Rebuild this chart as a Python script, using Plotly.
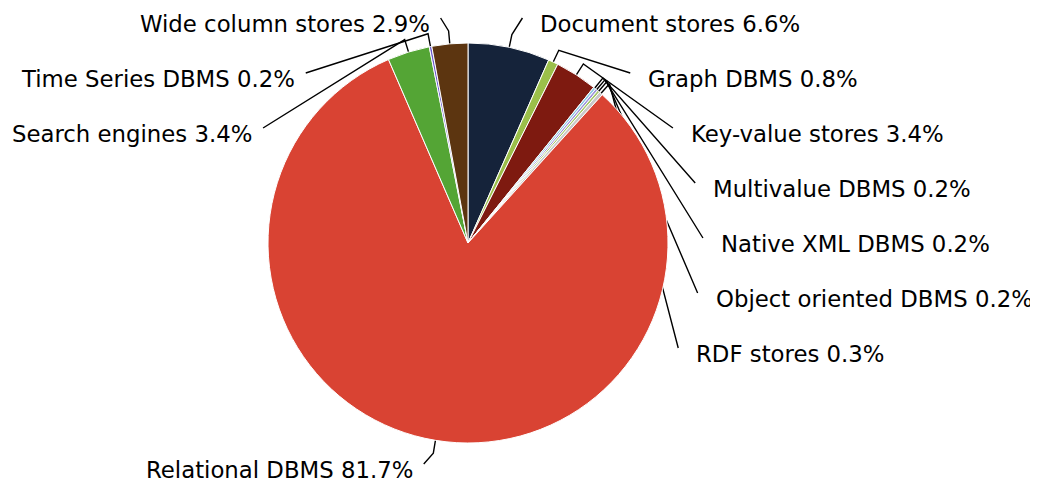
import math
import plotly.graph_objects as go

categories = ["Document stores", "Graph DBMS", "Key-value stores", "Multivalue DBMS",
              "Native XML DBMS", "Object oriented DBMS", "RDF stores", "Relational DBMS",
              "Search engines", "Time Series DBMS", "Wide column stores"]
shares = [6.6, 0.8, 3.4, 0.2, 0.2, 0.2, 0.3, 81.7, 3.4, 0.2, 2.9]
colors = ["#15233a", "#9bbf4a", "#7e1a10", "#8ec9e2", "#9d93dd", "#a6c86c", "#c9c9c9",
          "#d94333", "#54a535", "#6a5acd", "#5c3510"]

# page body has an 8px margin, so the figure is drawn 8px smaller and shifted
OFF = 8
W, H = 1038 - OFF, 484 - OFF
CX, CY, R = 468 - OFF, 243 - OFF, 200
BREAK_R = 213
LABEL_R = 235
NAT_SHIFT = 6
SLOT = 55
TOP_Y = 24 - OFF
BOTTOM_Y = 470 - OFF
ANCHOR_DY = 6
GAP_RIGHT = 16
GAP_LEFT = 9
FONT = dict(family="DejaVu Sans", size=22.8, color="#000000")

total = sum(shares)
mids = []
acc = 0.0
for v in shares:
    mids.append(2 * math.pi * (acc + v / 2) / total)
    acc += v

fig = go.Figure()
fig.add_trace(go.Pie(
    labels=categories, values=shares, sort=False, direction="clockwise", rotation=0,
    marker=dict(colors=colors, line=dict(color="white", width=1)),
    textinfo="none", hoverinfo="label+percent", showlegend=False,
    domain=dict(x=[(CX - R) / W, (CX + R) / W], y=[1 - (CY + R) / H, 1 - (CY - R) / H]),
))

annotations = []
for side in (1, -1):
    idx = [i for i in range(len(shares)) if (math.sin(mids[i]) > 0) == (side == 1)]
    nat = {i: CY - LABEL_R * math.cos(mids[i]) + ANCHOR_DY for i in idx}
    idx.sort(key=lambda i: nat[i])
    ys = []
    prev = None
    for i in idx:
        y = max(nat[i], TOP_Y if prev is None else prev + SLOT)
        ys.append(y)
        prev = y
    nxt = None
    for k in range(len(idx) - 1, -1, -1):
        lim = BOTTOM_Y if nxt is None else nxt - SLOT
        ys[k] = min(ys[k], lim)
        nxt = ys[k]
    for i, yt in zip(idx, ys):
        th = mids[i]
        ay = yt - ANCHOR_DY
        if abs(yt - nat[i]) > 15:
            dx = math.sqrt(max(LABEL_R ** 2 - (ay - CY) ** 2, 0))
        else:
            dx = LABEL_R * abs(math.sin(th)) + NAT_SHIFT
        xe = CX + side * dx
        bx, by = CX + BREAK_R * math.sin(th), CY - BREAK_R * math.cos(th)
        ex, ey = CX + R * math.sin(th), CY - R * math.cos(th)
        fig.add_trace(go.Scatter(x=[xe, bx, ex], y=[ay, by, ey], mode="lines",
                                 line=dict(color="#000000", width=1.4),
                                 hoverinfo="skip", showlegend=False))
        annotations.append(dict(
            x=xe + (GAP_RIGHT if side == 1 else -GAP_LEFT), y=yt, xref="x", yref="y",
            text=f"{categories[i]} {shares[i]:.1f}%", showarrow=False,
            xanchor="left" if side == 1 else "right", yanchor="middle", font=FONT))

fig.update_layout(
    width=W, height=H, margin=dict(l=0, r=0, t=0, b=0),
    paper_bgcolor="white", plot_bgcolor="rgba(0,0,0,0)",
    xaxis=dict(range=[0, W], visible=False, fixedrange=True),
    yaxis=dict(range=[H, 0], visible=False, fixedrange=True),
    annotations=annotations, showlegend=False,
)
fig.write_html("out.html")
